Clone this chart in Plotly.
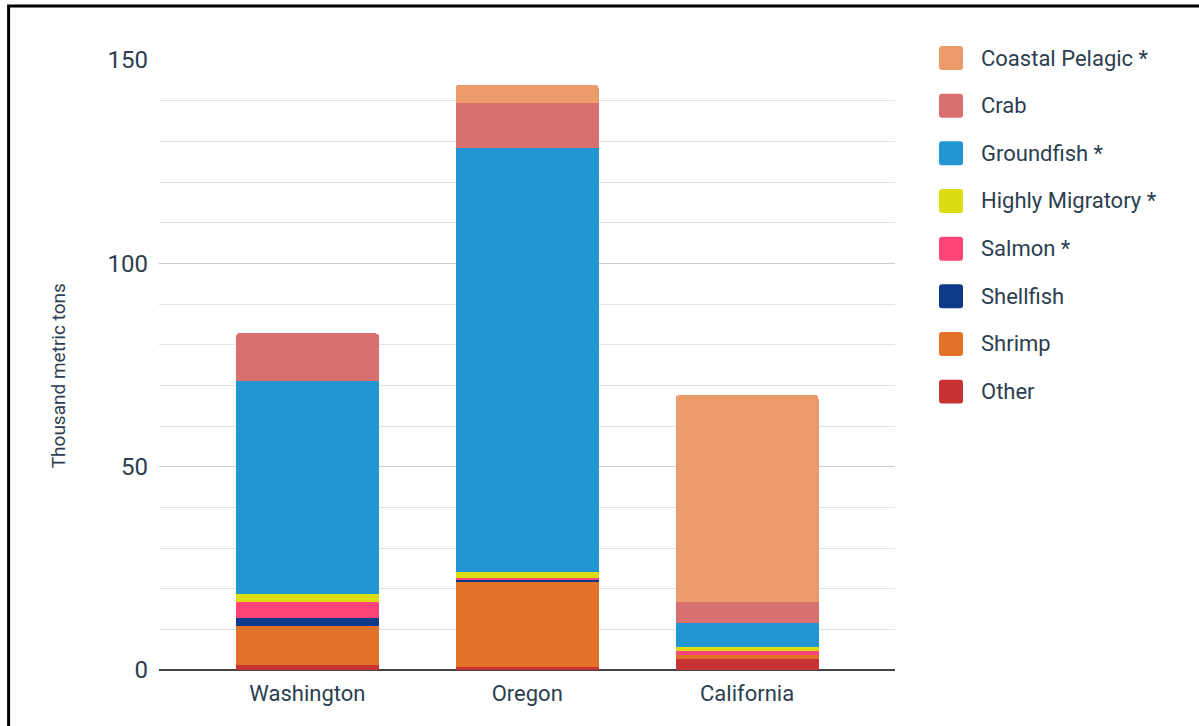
import plotly.graph_objects as go

# West Coast landings by fishery group (thousand metric tons)
states = ["Washington", "Oregon", "California"]

other = [1.2, 0.8, 2.7]
shrimp = [9.7, 20.9, 0.9]
shellfish = [2.0, 0.5, 0.0]
salmon = [3.9, 0.5, 1.0]
highly_migratory = [2.0, 1.4, 1.0]
groundfish = [52.3, 104.2, 5.9]
crab = [11.7, 11.2, 5.3]
coastal_pelagic = [0.0, 4.4, 50.8]

# stacking order, bottom to top
series = [
    ("Other", other, "#C73332"),
    ("Shrimp", shrimp, "#E27228"),
    ("Shellfish", shellfish, "#0E3A8C"),
    ("Salmon *", salmon, "#FF4577"),
    ("Highly Migratory *", highly_migratory, "#DCDC14"),
    ("Groundfish *", groundfish, "#2196D3"),
    ("Crab", crab, "#D7706E"),
    ("Coastal Pelagic *", coastal_pelagic, "#EB9C6A"),
]

y_ticks = [0, 50, 100, 150]

FONT = "Roboto"
TEXT = "#2c3e50"

# plot-area geometry in pixels
W, H = 1199, 726
L, R, T, B = 159, 895, 59.5, 670


def px_x(px):
    return (px - L) / (R - L)


def px_y(py):
    return (B - py) / (B - T)


fig = go.Figure()
for name, vals, color in series:
    fig.add_trace(go.Bar(
        x=states, y=vals, name=name,
        marker=dict(color=color, line=dict(width=0)),
        showlegend=False,
        hovertemplate="%{x}<br>" + name + ": %{y}<extra></extra>",
    ))

shapes = []
annotations = []

# legend: swatch + label, top entry first
for i, (name, vals, color) in enumerate(reversed(series)):
    cy = 57.5 + i * 47.7
    x0, x1 = px_x(939), px_x(963)
    y0, y1 = px_y(cy + 12), px_y(cy - 12)
    rx = 3 / (R - L)
    ry = 3 / (B - T)
    path = (
        f"M {x0 + rx},{y0} L {x1 - rx},{y0} Q {x1},{y0} {x1},{y0 + ry} "
        f"L {x1},{y1 - ry} Q {x1},{y1} {x1 - rx},{y1} "
        f"L {x0 + rx},{y1} Q {x0},{y1} {x0},{y1 - ry} "
        f"L {x0},{y0 + ry} Q {x0},{y0} {x0 + rx},{y0} Z"
    )
    shapes.append(dict(type="path", xref="paper", yref="paper", path=path,
                       fillcolor=color, line=dict(width=0)))
    annotations.append(dict(
        x=px_x(979), y=px_y(cy), xref="paper", yref="paper",
        text=name, showarrow=False, xanchor="left", yanchor="middle",
        font=dict(family=FONT, size=22, color=TEXT),
    ))

# axis title
annotations.append(dict(
    x=px_x(58), y=px_y(376), xref="paper", yref="paper",
    text="Thousand metric tons", showarrow=False, textangle=-90,
    xanchor="center", yanchor="middle",
    font=dict(family=FONT, size=19, color=TEXT),
))

# outer frame
shapes.append(dict(
    type="rect", xref="paper", yref="paper",
    x0=px_x(8.6), x1=px_x(1230), y0=px_y(760), y1=px_y(5.4),
    line=dict(color="#000000", width=3), fillcolor="rgba(0,0,0,0)",
))

fig.update_layout(
    width=W, height=H,
    margin=dict(l=L, r=W - R, t=T, b=H - B),
    paper_bgcolor="white", plot_bgcolor="white",
    barmode="stack", bargap=0.35, barcornerradius=4,
    font=dict(family=FONT, color=TEXT),
    shapes=shapes, annotations=annotations,
    showlegend=False,
    xaxis=dict(
        range=[-0.675, 2.673], showgrid=False, showline=False,
        ticks="", ticklabelstandoff=8,
        tickfont=dict(family=FONT, size=22, color=TEXT),
        fixedrange=True,
    ),
    yaxis=dict(
        range=[0, 150], tickvals=y_ticks, ticks="",
        showgrid=True, gridcolor="#cccccc", gridwidth=1,
        minor=dict(dtick=10, showgrid=True, gridcolor="#e3e3e3", gridwidth=1),
        zeroline=True, zerolinecolor="#444444", zerolinewidth=2,
        showline=False, ticklabelstandoff=10,
        tickfont=dict(family=FONT, size=24, color=TEXT),
        fixedrange=True,
    ),
)

fig.write_html("out.html")
